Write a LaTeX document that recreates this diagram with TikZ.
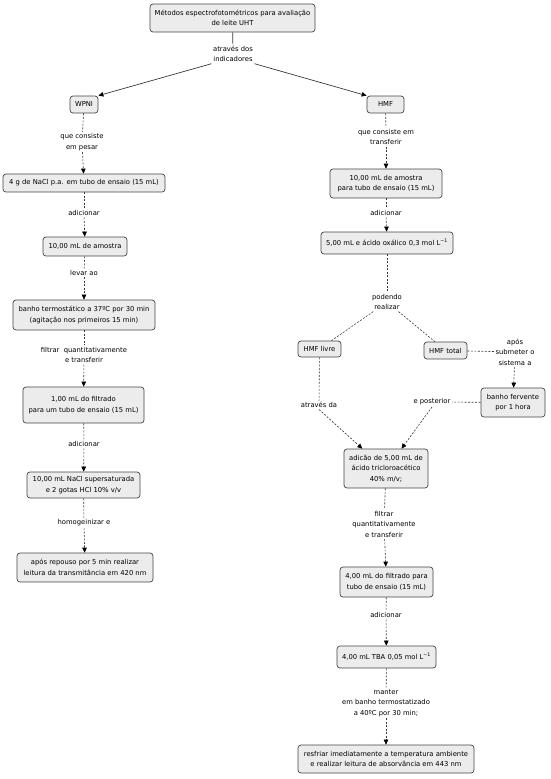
\documentclass[tikz,border=0pt]{standalone}
\usepackage{fontspec}
\setmainfont{DejaVu Sans}
\usetikzlibrary{arrows.meta}
\definecolor{boxfill}{HTML}{ECECEC}
\definecolor{boxline}{HTML}{454545}
\definecolor{conn}{HTML}{383838}
\tikzset{
  box/.style={draw=boxline, fill=boxfill, rounded corners=3pt, align=center,
    font=\fontsize{6.8}{10.5}\selectfont, inner sep=1pt, line width=0.7pt},
  lab/.style={align=center, font=\fontsize{6.8}{10.5}\selectfont, inner sep=1.5pt},
  dl/.style={dashed, dash pattern=on 2pt off 1.5pt, draw=conn, line width=0.6pt},
  sl/.style={draw=conn, line width=0.7pt},
  arr/.style={-{Triangle[length=5pt,width=4.5pt,color=black]}}
}
\begin{document}
\begin{tikzpicture}[x=1pt,y=-1pt]
\useasboundingbox (0,0) rectangle (550,779);
% top
\node[box, minimum width=165, minimum height=28] (top) at (232.5,18) {Métodos espectrofotométricos para avaliação\\de leite UHT};
\node[lab] (via) at (233,54) {através dos\\indicadores};
\node[box, minimum width=28, minimum height=17] (wpni) at (84,104.5) {WPNI};
\node[box, minimum width=37, minimum height=17] (hmf) at (385.5,104.5) {HMF};
% left column
\node[lab] (l1) at (82,142) {que consiste\\em pesar};
\node[box, minimum width=162, minimum height=18] (n1) at (84,183) {4 g de NaCl p.a. em tubo de ensaio (15 mL)};
\node[lab] (l2) at (84,213) {adicionar};
\node[box, minimum width=84, minimum height=19] (n2) at (85,246.5) {10,00 mL de amostra};
\node[lab] (l3) at (84,273) {levar ao};
\node[box, minimum width=142, minimum height=30] (n3) at (84,315) {banho termostático a 37ºC por 30 min\\(agitação nos primeiros 15 min)};
\node[lab] (l4) at (84,355) {filtrar\ \ quantitativamente\\e transferir};
\node[box, minimum width=121, minimum height=36] (n4) at (83.5,405) {1,00 mL do filtrado\\para um tubo de ensaio (15 mL)};
\node[lab] (l5) at (84,444) {adicionar};
\node[box, minimum width=113, minimum height=26] (n5) at (83.5,485) {10,00 mL NaCl supersaturada\\e 2 gotas HCl 10\% v/v};
\node[lab] (l6) at (84,523) {homogeinizar e};
\node[box, minimum width=136, minimum height=29] (n6) at (85,567.5) {após repouso por 5 min realizar\\leitura da transmitância em 420 nm};
% right column
\node[lab] (r1) at (386,137) {que consiste em\\transferir};
\node[box, minimum width=112, minimum height=29] (m1) at (386,183.5) {10,00 mL de amostra\\para tubo de ensaio (15 mL)};
\node[lab] (r2) at (386,213) {adicionar};
\node[box, minimum width=132, minimum height=22] (m2) at (387,243) {5,00 mL e ácido oxálico 0,3 mol L\textsuperscript{−1}};
\node[lab] (r3) at (387,302) {podendo\\realizar};
\node[box, minimum width=43, minimum height=16] (livre) at (319.5,349) {HMF livre};
\node[box, minimum width=43, minimum height=17] (total) at (445.5,350.5) {HMF total};
\node[lab] (r4) at (515,352) {após\\submeter o\\sistema a};
\node[box, minimum width=64, minimum height=29] (ferv) at (513,402.5) {banho fervente\\por 1 hora};
\node[lab] (r5) at (432,402) {e posterior};
\node[lab] (r6) at (319,405) {através da};
\node[box, minimum width=84, minimum height=39] (m3) at (386,468.5) {adicão de 5,00 mL de\\ácido tricloroacético\\40\% m/v;};
\node[lab] (r7) at (384,524) {filtrar\\quantitativamente\\e transferir};
\node[box, minimum width=93, minimum height=30] (m4) at (386.5,582) {4,00 mL do filtrado para\\tubo de ensaio (15 mL)};
\node[lab] (r8) at (386,615) {adicionar};
\node[box, minimum width=99, minimum height=22] (m5) at (386.5,657) {4,00 mL TBA 0,05 mol L\textsuperscript{−1}};
\node[lab] (r9) at (386,703) {manter\\em banho termostatizado\\a 40ºC por 30 min;};
\node[box, minimum width=176, minimum height=28] (m6) at (386,759) {resfriar imediatamente a temperatura ambiente\\e realizar leitura de absorvância em 443 nm};
% connectors top
\draw[sl] (top) -- (via);
\draw[sl,arr] (via.south west) -- (wpni.north east);
\draw[sl,arr] (via.south east) -- (hmf.north west);
% left
\draw[dl] (wpni) -- (l1);
\draw[dl,arr] (l1) -- (n1);
\draw[dl] (n1) -- (l2);
\draw[dl,arr] (l2) -- (n2);
\draw[dl] (n2) -- (l3);
\draw[dl,arr] (l3) -- (n3);
\draw[dl] (n3) -- (l4);
\draw[dl,arr] (l4) -- (n4);
\draw[dl] (n4) -- (l5);
\draw[dl,arr] (l5) -- (n5);
\draw[dl] (n5) -- (l6);
\draw[dl,arr] (l6) -- (n6);
% right
\draw[dl] (hmf) -- (r1);
\draw[dl,arr] (r1) -- (m1);
\draw[dl] (m1) -- (r2);
\draw[dl,arr] (r2) -- (m2);
\draw[dl] (m2) -- (r3);
\draw[dl] (r3) -- (livre);
\draw[dl] (r3) -- (total);
\draw[dl] (total) -- (r4);
\draw[dl,arr] (r4) -- (ferv);
\draw[dl] (ferv) -- (r5);
\draw[dl,arr] (r5.south) -- (m3.52);
\draw[dl] (livre) -- (r6);
\draw[dl,arr] (r6.south) -- (m3.140);
\draw[dl] (m3) -- (r7);
\draw[dl,arr] (r7) -- (m4);
\draw[dl] (m4) -- (r8);
\draw[dl,arr] (r8) -- (m5);
\draw[dl] (m5) -- (r9);
\draw[dl,arr] (r9) -- (m6);
\end{tikzpicture}
\end{document}
